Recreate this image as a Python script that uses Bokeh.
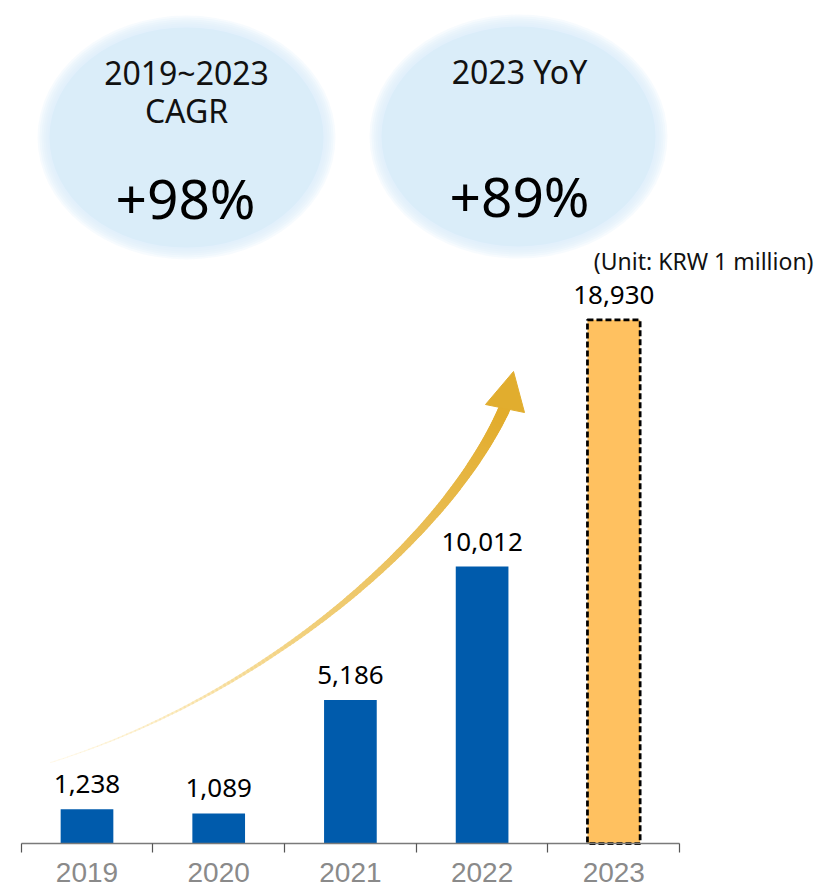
import numpy as np
from bokeh.plotting import figure
from bokeh.models import Range1d, LinearAxis, FixedTicker, ColumnDataSource
from bokeh.core.properties import value
from bokeh.embed import file_html
from bokeh.resources import INLINE

# ---- data ----
years = ["2019", "2020", "2021", "2022", "2023"]
revenue = [1238, 1089, 5186, 10012, 18930]
revenue_labels = ["1,238", "1,089", "5,186", "10,012", "18,930"]
kpi_titles = [["2019~2023", "CAGR"], ["2023 YoY"]]
kpi_values = ["+98%", "+89%"]
unit_note = "(Unit: KRW 1 million)"

BLUE = "#005BAC"
GOLD = "#FFC160"
SKY = "#DAEEF9"
FONT = "Noto Sans"

idx = list(range(len(years)))

W, H = 815, 887
Y0 = 843          # pixel row of value 0
UPP = 36.15       # revenue units per pixel
CX0, CW = 86.5, 131.7  # first category centre / category pitch in pixels

p = figure(frame_width=W, frame_height=H,
           x_range=Range1d(-CX0 / CW, (W - CX0) / CW),
           y_range=Range1d(-(H - Y0) * UPP, Y0 * UPP),
           x_axis_type=None, y_axis_type=None,
           toolbar_location=None, output_backend="svg",
           min_border=0, outline_line_color=None)
p.extra_x_ranges = {"px": Range1d(0, W)}
p.extra_y_ranges = {"px": Range1d(H, 0)}

# ---- KPI bubbles (soft-edged ellipses) ----
bubble_cx = [186, 518]
bubble_cy = [137, 136]
bw, bh = 290, 236
for cx, cy in zip(bubble_cx, bubble_cy):
    p.ellipse(x=[cx], y=[cy], width=[bw - 16], height=[bh - 16],
              fill_color=SKY, line_color=None,
              x_range_name="px", y_range_name="px")
    for d in (-12, -8, -4, 0, 4, 8):
        p.ellipse(x=[cx], y=[cy], width=[bw + d], height=[bh + d],
                  fill_color=SKY, fill_alpha=0.22, line_color=None,
                  x_range_name="px", y_range_name="px")

# KPI texts
p.text(x=[186, 186], y=[72, 110], text=kpi_titles[0], text_align="center",
       text_baseline="alphabetic", text_font=value(FONT), text_font_size="32px",
       text_color="#111111", x_range_name="px", y_range_name="px")
p.text(x=[519], y=[71], text=kpi_titles[1], text_align="center",
       text_baseline="alphabetic", text_font=value(FONT), text_font_size="32px",
       text_color="#111111", x_range_name="px", y_range_name="px")
p.text(x=[185, 519], y=[197, 195], text=kpi_values, text_align="center",
       text_baseline="alphabetic", text_font=value(FONT), text_font_size="55px",
       text_color="#000000", x_range_name="px", y_range_name="px")

# unit note
p.text(x=[813], y=[260], text=[unit_note], text_align="right",
       text_baseline="alphabetic", text_font=value(FONT), text_font_size="23px",
       text_color="#111111", x_range_name="px", y_range_name="px")

# ---- growth arrow (decorative) ----
P0 = np.array([50.0, 762.0])
P1 = np.array([250.0, 700.0])
P2 = np.array([440.0, 548.0])
P3 = np.array([504.0, 408.0])
t = np.linspace(0, 1, 141)
pts = ((1 - t)[:, None] ** 3 * P0 + 3 * ((1 - t) ** 2 * t)[:, None] * P1
       + 3 * ((1 - t) * t ** 2)[:, None] * P2 + (t ** 3)[:, None] * P3)
c0 = np.array([255, 238, 190])
c1 = np.array([226, 172, 44])
tm = (t[:-1] + t[1:]) / 2
cols = ["#%02x%02x%02x" % tuple(int(v) for v in (c0 + (c1 - c0) * s)) for s in tm]
p.segment(x0=pts[:-1, 0], y0=pts[:-1, 1], x1=pts[1:, 0], y1=pts[1:, 1],
          line_color=cols, line_width=list(1 + 11 * tm ** 1.4),
          line_alpha=list(0.3 + 0.7 * np.minimum(tm * 2, 1)),
          line_cap="round", x_range_name="px", y_range_name="px")
p.patch(x=[513, 485, 524], y=[371, 404, 412], fill_color="#E1AD2E",
        line_color="#E1AD2E", line_width=1, x_range_name="px", y_range_name="px")

# ---- bars ----
src = ColumnDataSource(dict(x=idx, top=revenue, color=[BLUE] * 4 + [GOLD],
                            label=revenue_labels))
p.vbar(x="x", top="top", width=0.4, bottom=0, fill_color="color",
       line_color=None, source=src)
p.vbar(x=idx[-1:], top=revenue[-1:], width=0.4, bottom=0, fill_color=None,
       line_color="black", line_width=2.75, line_dash="6 3")

p.text(x="x", y="top", text="label", source=src, y_offset=-25,
       text_align="center", text_baseline="alphabetic",
       text_font=value(FONT), text_font_size="26px", text_color="#000000")

# ---- category axis, pinned at value 0 ----
ax = LinearAxis(ticker=FixedTicker(ticks=idx, minor_ticks=[i - 0.5 for i in range(len(years) + 1)]),
                bounds=(-0.5, len(years) - 0.5), fixed_location=0,
                major_label_overrides={i: y for i, y in zip(idx, years)})
ax.axis_line_color = "#7a7a7a"
ax.axis_line_width = 1.5
ax.major_tick_out = 0
ax.major_tick_in = 0
ax.minor_tick_out = 9
ax.minor_tick_in = 0
ax.minor_tick_line_color = "#555555"
ax.minor_tick_line_width = 1.2
ax.major_label_standoff = 10
ax.major_label_text_font = "Liberation Sans"
ax.major_label_text_font_size = "28px"
ax.major_label_text_color = "#8a8a8a"
p.add_layout(ax, "below")

open("out.html", "w").write(file_html(p, INLINE))
